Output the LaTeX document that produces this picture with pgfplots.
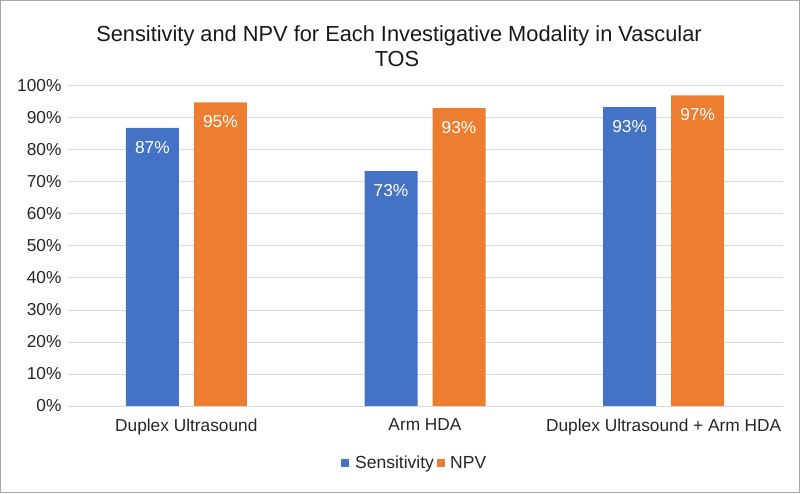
\documentclass[border=0pt]{standalone}
\usepackage{pgfplots}
\pgfplotsset{compat=1.18}
\usepackage{fontspec}
\setmainfont{Liberation Sans}
\definecolor{cblue}{HTML}{4472C4}
\definecolor{corange}{HTML}{ED7D31}
\definecolor{cgrid}{HTML}{D9D9D9}
\begin{document}
\begin{tikzpicture}[x=1pt,y=1pt]
\useasboundingbox (0,0) rectangle (800,493);
\fill[white] (0,0) rectangle (800,493);
\draw[gray!70,line width=1.2pt] (0.6,0.6) rectangle (799.4,492.4);
\begin{axis}[
  at={(67pt,87pt)}, anchor=south west,
  scale only axis, width=716pt, height=320pt,
  xmin=-0.5, xmax=2.5, ymin=0, ymax=100,
  ybar, bar width=53pt,
  xtick={0,1,2}, xticklabels={Duplex Ultrasound, Arm HDA, Duplex Ultrasound + Arm HDA},
  ytick={0,10,...,100},
  yticklabel={\pgfmathprintnumber{\tick}\%},
  /pgf/number format/assume math mode=true,
  ticklabel style={font=\fontsize{17.3}{20}\selectfont, text=black!85},
  tick style={draw=none},
  axis line style={draw=none},
  ymajorgrids, grid style={cgrid, line width=1pt},
  nodes near coords={\pgfmathprintnumber{\pgfplotspointmeta}\%},
  nodes near coords style={font=\fontsize{17.3}{20}\selectfont, text=white, anchor=north, yshift=-10pt},
  point meta=explicit,
  yticklabel style={xshift=-2pt},
  xticklabel style={yshift=-5pt},
]
\addplot[fill=cblue, draw=none, bar shift=-34pt] coordinates {(0,86.9)[87] (1,73.4)[73] (2,93.4)[93]};
\addplot[fill=corange, draw=none, bar shift=34pt] coordinates {(0,94.9)[95] (1,93.1)[93] (2,97.1)[97]};
\draw[cgrid, line width=1pt] (rel axis cs:0,0) -- (rel axis cs:1,0);
\end{axis}
\node[anchor=base, font=\fontsize{21.8}{25}\selectfont, text=black!90] at (399,451) {Sensitivity and NPV for Each Investigative Modality in Vascular};
\node[anchor=base, font=\fontsize{21.8}{25}\selectfont, text=black!90] at (397,426) {TOS};
\fill[cblue] (341,26) rectangle (349,34);
\node[anchor=base west, inner sep=0pt, font=\fontsize{17.5}{20}\selectfont, text=black!85] at (355,25) {Sensitivity};
\fill[corange] (437,26) rectangle (445,34);
\node[anchor=base west, inner sep=0pt, font=\fontsize{17.5}{20}\selectfont, text=black!85] at (450,25) {NPV};
\end{tikzpicture}
\end{document}
